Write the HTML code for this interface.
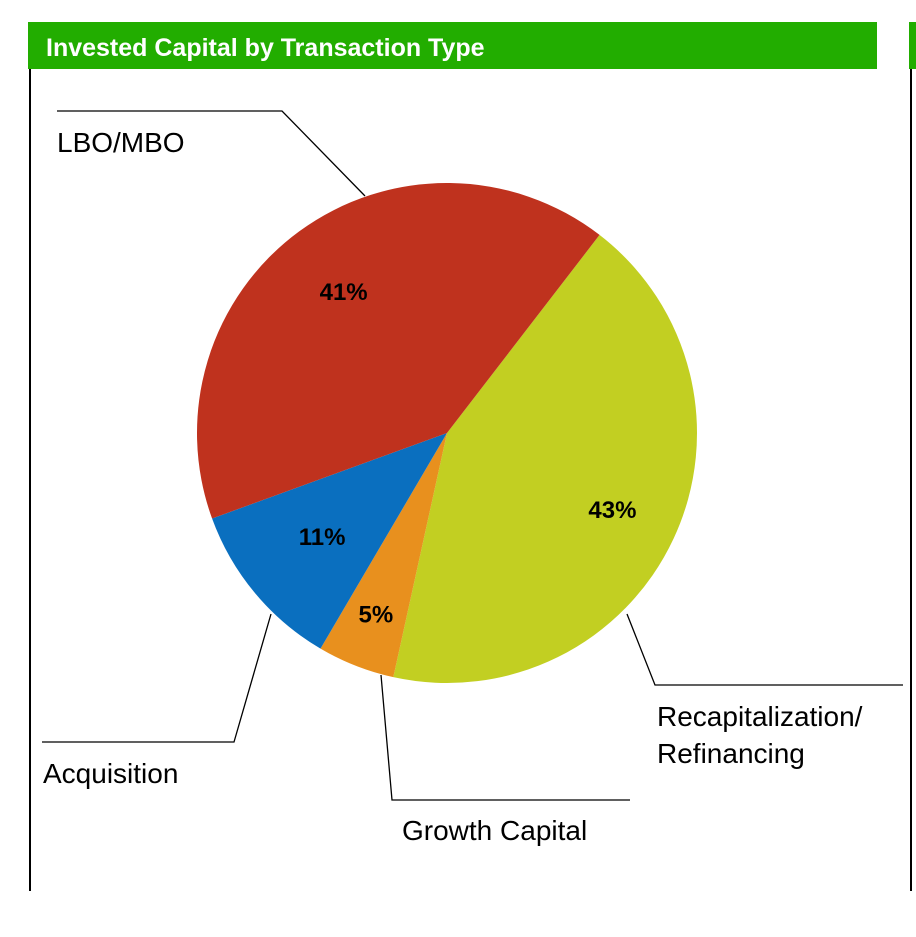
<!DOCTYPE html>
<html><head><meta charset="utf-8"><style>
html,body{margin:0;padding:0;background:#fff;}
body{width:916px;height:932px;position:relative;overflow:hidden;font-family:"Liberation Sans",Arial,sans-serif;}
</style></head><body>
<svg width="916" height="932" viewBox="0 0 916 932" xmlns="http://www.w3.org/2000/svg">
<rect x="28" y="22" width="849" height="47" fill="#22ad00"/>
<text x="46" y="56" font-family="Liberation Sans, Arial, sans-serif" font-weight="bold" font-size="25" fill="#fff">Invested Capital by Transaction Type</text>
<rect x="909" y="22" width="7" height="47" fill="#22ad00"/>
<line x1="30" y1="69" x2="30" y2="891" stroke="#000" stroke-width="2"/>
<line x1="911" y1="69" x2="911" y2="891" stroke="#000" stroke-width="2"/>
<g id="pie"></g>
<g id="leaders" fill="none" stroke="#000" stroke-width="1.3">
<polyline points="57,111 282,111 365,196"/>
<polyline points="42,742 234,742 271,614"/>
<polyline points="381,675 392,800 630,800"/>
<polyline points="627,614 655,685 903,685"/>
</g>
<g font-family="Liberation Sans, Arial, sans-serif" font-size="28" fill="#000">
<text x="57" y="152">LBO/MBO</text>
<text x="43" y="783">Acquisition</text>
<text x="402" y="840">Growth Capital</text>
<text x="657" y="726">Recapitalization/</text>
<text x="657" y="763">Refinancing</text>
</g>
</svg>
<script>
const categories = ["Recapitalization/Refinancing","Growth Capital","Acquisition","LBO/MBO"];
const values = [43, 5, 11, 41];
const valueLabels = ["43%","5%","11%","41%"];
const colors = ["#c2cf22","#e8901e","#0a6fbf","#bf321e"];
const cx = 447, cy = 433, r = 250, startDeg = 37.6;
const labelR = [0.73, 0.78, 0.65, 0.70];
const NS = "http://www.w3.org/2000/svg";
const g = document.getElementById("pie");
const total = values.reduce((a,b)=>a+b,0);
function pt(deg, rad){const a = deg*Math.PI/180; return [cx + rad*Math.sin(a), cy - rad*Math.cos(a)];}
let ang = startDeg;
values.forEach((v,i)=>{
  const sweep = v/total*360;
  const [x1,y1] = pt(ang, r), [x2,y2] = pt(ang+sweep, r);
  const p = document.createElementNS(NS,"path");
  p.setAttribute("d",`M${cx},${cy} L${x1},${y1} A${r},${r} 0 ${sweep>180?1:0} 1 ${x2},${y2} Z`);
  p.setAttribute("fill",colors[i]);
  
  
  g.appendChild(p);
  const [tx,ty] = pt(ang+sweep/2, r*labelR[i]);
  const t = document.createElementNS(NS,"text");
  t.setAttribute("x",tx); t.setAttribute("y",ty+8);
  t.setAttribute("text-anchor","middle");
  t.setAttribute("font-family","Liberation Sans, Arial, sans-serif");
  t.setAttribute("font-weight","bold"); t.setAttribute("font-size","24");
  t.textContent = valueLabels[i];
  
  
  g.appendChild(t);
  ang += sweep;
});
</script>
</body></html>
